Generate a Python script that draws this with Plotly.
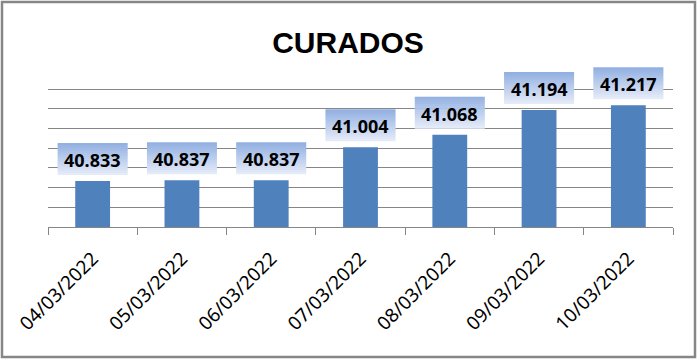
import plotly.graph_objects as go

# ---- data ----
dates = ["04/03/2022", "05/03/2022", "06/03/2022", "07/03/2022",
         "08/03/2022", "09/03/2022", "10/03/2022"]
curados = [40833, 40837, 40837, 41004, 41068, 41194, 41217]
grid_values = [40600, 40700, 40800, 40900, 41000, 41100, 41200, 41300]
title_text = "CURADOS"

labels = [f"{v:,}".replace(",", ".") for v in curados]

W, H = 698, 361
ML, MR, MT, MB = 48, 25, 60, 134
PW, PH = W - ML - MR, H - MT - MB
# extend the value range above the top gridline so label boxes are not clipped
grid_px = 138  # pixel distance between lowest and highest gridline
y_min = grid_values[0]
y_max = y_min + (grid_values[-1] - grid_values[0]) * PH / grid_px

BAR = "#4F81BD"
GRID = "#868686"

fig = go.Figure(go.Bar(x=dates, y=curados, marker_color=BAR,
                       marker_line_width=0, hoverinfo="skip"))

# gradient label boxes anchored to each bar value
top_rgb = (0x93, 0xB0, 0xE2)
bot_rgb = (0xE4, 0xEB, 0xF8)
n_slices = 16
box_bottom, box_h, box_w = 6, 32, 70
shapes = []
for d, v in zip(dates, curados):
    for k in range(n_slices):
        t = k / (n_slices - 1)
        c = tuple(round(b + (tp - b) * t) for b, tp in zip(bot_rgb, top_rgb))
        y0 = box_bottom + k * box_h / n_slices
        y1 = y0 + box_h / n_slices + (0.6 if k < n_slices - 1 else 0)
        shapes.append(dict(type="rect", xref="x", yref="y",
                           xsizemode="pixel", ysizemode="pixel",
                           xanchor=d, yanchor=v,
                           x0=-box_w / 2, x1=box_w / 2, y0=y0, y1=y1,
                           fillcolor="rgb(%d,%d,%d)" % c, line_width=0,
                           layer="above"))

# outer chart border
shapes.append(dict(type="rect", xref="paper", yref="paper",
                   x0=(2 - ML) / PW, x1=(695 - ML) / PW,
                   y0=(MT + PH - 357) / PH, y1=(MT + PH - 2) / PH,
                   line=dict(color=GRID, width=2.5), fillcolor="rgba(0,0,0,0)",
                   layer="above"))

annotations = [dict(x=d, y=v, xref="x", yref="y", text=t, showarrow=False,
                    yshift=21, font=dict(family="Noto Sans", size=18,
                                         color="black", weight="bold"))
               for d, v, t in zip(dates, curados, labels)]

fig.update_layout(
    width=W, height=H,
    margin=dict(l=ML, r=MR, t=MT, b=MB, pad=0, autoexpand=False),
    paper_bgcolor="white", plot_bgcolor="white",
    showlegend=False,
    bargap=0.61,
    title=dict(text=title_text, x=348 / W, xanchor="center", xref="container",
               y=1 - 42 / H, yanchor="middle", yref="container",
               font=dict(family="Liberation Sans", size=30, color="black",
                         weight="bold")),
    xaxis=dict(type="category", showgrid=False, showline=True,
               linecolor=GRID, linewidth=1, ticks="outside", ticklen=7,
               tickcolor=GRID, tickson="boundaries", tickangle=-45,
               ticklabelstandoff=12, automargin=False,
               tickfont=dict(family="Noto Sans", size=19, color="black")),
    yaxis=dict(range=[y_min, y_max], tickmode="array", tickvals=grid_values,
               showticklabels=False, showgrid=True, gridcolor=GRID,
               gridwidth=1, zeroline=False, showline=False, ticks="",
               automargin=False),
    shapes=shapes,
    annotations=annotations,
)

fig.write_html("out.html",
               config={"displayModeBar": False},
               post_script="document.body.style.margin='0';"
                           "document.documentElement.style.overflow='hidden';")
